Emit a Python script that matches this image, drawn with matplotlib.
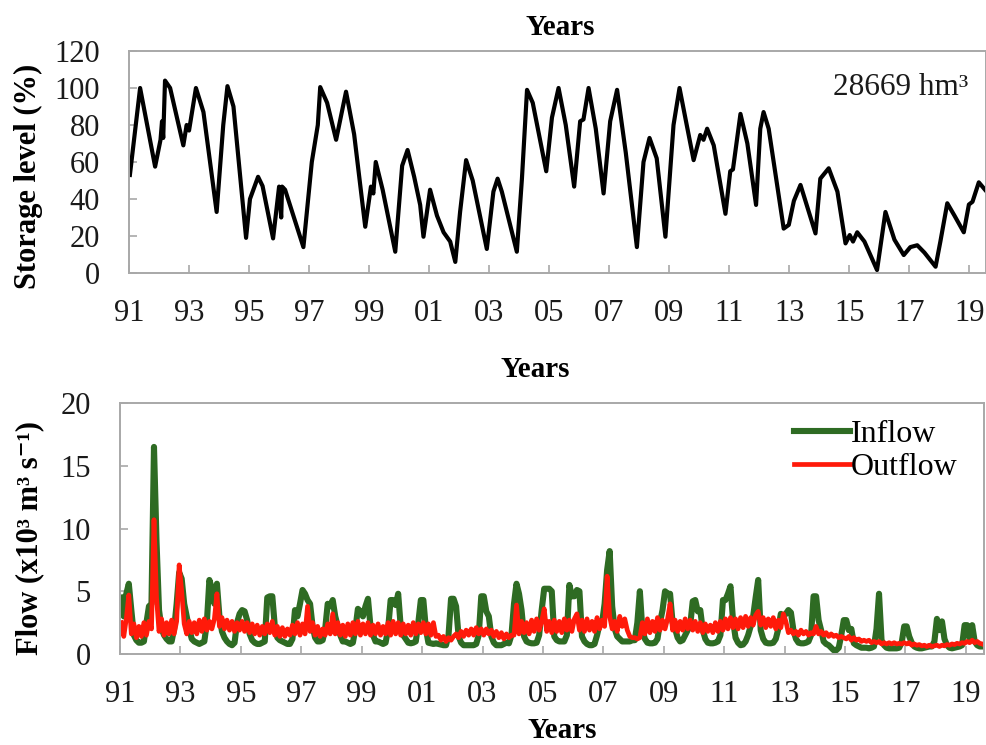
import matplotlib
matplotlib.use("Agg")
import matplotlib.pyplot as plt
import numpy as np

plt.rcParams['font.family'] = ['Liberation Serif', 'DejaVu Serif']

# storage level (%) - turning points
storage_years = [
    1991.03, 1991.37, 1991.87, 1992.05, 1992.10, 1992.14, 1992.20, 1992.37, 1992.81, 1992.92,
    1993.00, 1993.23, 1993.48, 1993.92, 1994.14, 1994.28, 1994.48, 1994.90, 1995.03, 1995.30,
    1995.45, 1995.80, 1996.00, 1996.07, 1996.10, 1996.20, 1996.81, 1997.09, 1997.29, 1997.37,
    1997.60, 1997.90, 1998.23, 1998.50, 1998.87, 1999.06, 1999.14, 1999.22, 1999.45, 1999.87,
    2000.10, 2000.28, 2000.50, 2000.70, 2000.81, 2001.03, 2001.26, 2001.48, 2001.70, 2001.87,
    2002.03, 2002.23, 2002.45, 2002.92, 2003.14, 2003.28, 2003.42, 2003.92, 2004.09, 2004.26,
    2004.45, 2004.90, 2005.09, 2005.31, 2005.55, 2005.83, 2006.03, 2006.14, 2006.31, 2006.55,
    2006.81, 2007.03, 2007.26, 2007.55, 2007.92, 2008.14, 2008.34, 2008.58, 2008.87, 2009.14,
    2009.34, 2009.58, 2009.81, 2010.03, 2010.14, 2010.26, 2010.48, 2010.87, 2011.03, 2011.12,
    2011.37, 2011.60, 2011.89, 2012.03, 2012.14, 2012.31, 2012.81, 2012.98, 2013.15, 2013.37,
    2013.87, 2014.03, 2014.31, 2014.60, 2014.87, 2015.01, 2015.12, 2015.26, 2015.50, 2015.92,
    2016.20, 2016.50, 2016.81, 2017.03, 2017.26, 2017.50, 2017.87, 2018.03, 2018.26, 2018.50,
    2018.81, 2018.98, 2019.10, 2019.31, 2019.57,
]
storage = [
    53, 100, 57.5, 72, 82, 73, 104, 100, 69, 80,
    77, 100, 87, 33, 80, 101, 90, 19, 40, 52,
    47, 18.7, 46.7, 30, 46.7, 45, 14, 60, 80, 100.5,
    92, 72, 98, 75, 25, 46.7, 43, 60, 45, 11.5,
    58, 66.5, 52, 36.8, 19.6, 45, 31, 22, 17, 6,
    33, 61, 50, 13, 44, 51, 44, 11.5, 51, 99,
    92, 55, 84, 100, 80, 46.7, 82, 83, 100, 78,
    43, 82, 99, 65, 14, 60, 73, 62, 19.6, 80,
    100, 80, 61, 74.6, 72, 78, 69, 32, 55, 56,
    86, 70, 36.8, 78, 87, 78, 24, 26, 39, 47.6,
    21.4, 51, 56.6, 44, 16, 20.5, 17, 22, 17, 1.6,
    33, 18, 9.7, 14, 15, 11, 3.4, 17, 37.7, 31,
    22, 37, 38.5, 49, 44,
]

# monthly flows (x10^3 m3/s), Jan 1991 - Aug 2019
inflow = [
    4.5, 3.0, 4.8, 5.6, 3.5, 1.5, 1.1, 0.9, 0.9, 1.0, 2.5, 3.8,    # 1991
    4.0, 16.5, 9.0, 3.5, 2.0, 1.5, 1.2, 1.0, 1.0, 2.0, 4.0, 6.5,   # 1992
    6.0, 4.0, 3.0, 2.0, 1.2, 1.0, 0.9, 0.8, 0.9, 1.0, 2.5, 5.9,    # 1993
    5.2, 4.0, 5.6, 3.0, 1.8, 1.3, 1.0, 0.8, 0.7, 0.9, 2.5, 3.2,    # 1994
    3.5, 3.4, 2.7, 1.6, 1.1, 0.9, 0.8, 0.8, 0.9, 1.0, 4.5, 4.6,    # 1995
    4.6, 2.2, 1.3, 1.1, 1.0, 0.9, 0.8, 0.8, 1.2, 3.5, 3.0, 4.0,    # 1996
    5.1, 4.8, 4.3, 4.0, 2.2, 1.3, 1.0, 1.0, 1.1, 2.0, 4.0, 3.8,    # 1997
    4.3, 3.0, 2.2, 1.5, 1.0, 1.0, 0.9, 0.8, 0.9, 2.0, 3.6, 3.4,    # 1998
    3.0, 3.8, 4.4, 2.2, 1.5, 1.0, 1.0, 0.9, 0.8, 0.9, 2.0, 4.3,    # 1999
    4.3, 3.9, 4.8, 2.2, 1.5, 1.2, 0.9, 0.85, 0.9, 1.0, 2.5, 4.3,   # 2000
    4.3, 2.0, 0.9, 0.85, 0.8, 0.85, 0.8, 0.75, 0.7, 0.7, 1.5, 4.4, # 2001
    4.4, 3.8, 1.4, 0.9, 0.7, 0.7, 0.7, 0.7, 0.7, 0.8, 1.5, 4.6,    # 2002
    4.6, 3.4, 3.0, 1.4, 0.9, 0.7, 0.7, 0.7, 0.8, 0.9, 0.85, 1.5,   # 2003
    4.0, 5.6, 4.8, 3.5, 1.4, 1.0, 0.9, 0.85, 0.85, 0.9, 1.5, 3.5,  # 2004
    5.2, 5.2, 5.2, 5.0, 1.4, 1.1, 1.0, 1.0, 1.0, 1.5, 5.5, 4.6,    # 2005
    4.6, 5.1, 5.0, 1.4, 1.0, 0.8, 0.7, 0.7, 0.8, 1.5, 2.4, 2.5,    # 2006
    4.0, 6.7, 8.2, 3.8, 2.0, 1.4, 1.2, 1.0, 1.0, 1.0, 1.0, 1.1,    # 2007
    1.1, 2.5, 5.0, 1.9, 1.2, 0.9, 0.85, 0.85, 0.9, 1.2, 2.5, 3.5,  # 2008
    5.0, 4.8, 4.8, 2.5, 2.0, 1.3, 1.0, 1.1, 1.5, 1.9, 2.3, 4.2,    # 2009
    4.3, 3.4, 3.5, 1.9, 1.2, 0.9, 0.85, 0.85, 0.9, 1.0, 1.5, 4.3,  # 2010
    4.3, 4.8, 5.4, 2.7, 1.3, 0.9, 0.7, 0.75, 1.0, 1.5, 2.2, 3.0,   # 2011
    4.5, 5.9, 1.9, 1.2, 0.9, 0.85, 0.85, 0.9, 1.2, 2.0, 3.2, 3.0,  # 2012
    3.2, 3.5, 3.3, 1.9, 1.2, 0.9, 0.85, 0.85, 0.9, 1.0, 1.5, 4.6,  # 2013
    4.6, 2.7, 1.9, 1.0, 0.8, 0.7, 0.5, 0.3, 0.3, 0.5, 1.5, 2.7,    # 2014
    2.7, 1.9, 2.0, 0.85, 0.7, 0.6, 0.5, 0.5, 0.5, 0.45, 0.5, 0.6,  # 2015
    2.0, 4.8, 1.1, 0.7, 0.5, 0.45, 0.45, 0.45, 0.45, 0.5, 0.9, 2.2, # 2016
    2.2, 1.4, 0.9, 0.6, 0.5, 0.45, 0.45, 0.5, 0.55, 0.6, 0.6, 1.0, # 2017
    2.8, 1.9, 2.6, 1.2, 0.7, 0.5, 0.45, 0.5, 0.55, 0.6, 0.7, 2.3,  # 2018
    2.3, 1.2, 2.3, 1.0, 0.7, 0.6, 0.6, 0.6,                        # 2019
]
outflow = [
    2.5, 1.4, 2.8, 4.7, 1.6, 2.4, 1.3, 2.2, 1.4, 2.5, 1.5, 2.6,    # 1991
    2.0, 10.7, 4.5, 1.8, 2.8, 1.5, 2.5, 1.6, 2.7, 1.6, 2.6, 7.1,   # 1992
    5.0, 2.4, 1.6, 2.6, 1.7, 2.5, 1.6, 2.7, 1.8, 2.8, 1.9, 2.6,    # 1993
    2.0, 2.8, 4.8, 2.2, 2.9, 2.0, 2.7, 1.9, 2.6, 1.8, 2.5, 1.9,    # 1994
    2.6, 1.8, 2.5, 1.7, 2.4, 1.6, 2.3, 1.5, 2.2, 1.6, 2.4, 1.7,    # 1995
    2.6, 1.5, 2.2, 1.4, 2.1, 1.4, 2.0, 1.5, 2.3, 1.6, 2.5, 1.5,    # 1996
    2.4, 1.6, 3.8, 1.8, 2.5, 1.5, 2.2, 1.4, 2.0, 1.5, 2.4, 1.6,    # 1997
    3.2, 1.6, 2.5, 1.5, 2.3, 1.4, 2.4, 1.5, 2.5, 1.6, 2.6, 1.5,    # 1998
    2.4, 1.6, 2.5, 1.5, 2.3, 1.6, 2.4, 1.5, 2.2, 1.6, 2.5, 1.5,    # 1999
    2.6, 1.6, 2.5, 1.5, 2.4, 1.6, 2.3, 1.5, 2.5, 1.6, 2.4, 1.7,    # 2000
    2.5, 1.6, 2.4, 1.5, 2.5, 1.4, 1.5, 1.1, 1.4, 1.0, 1.3, 1.1,    # 2001
    1.4, 1.6, 1.3, 1.8, 1.4, 1.9, 1.5, 2.0, 1.5, 2.1, 1.6, 2.0,    # 2002
    1.5, 2.0, 1.6, 1.9, 1.4, 1.8, 1.3, 1.7, 1.2, 1.6, 1.3, 1.5,    # 2003
    1.5, 3.9, 1.6, 2.6, 1.7, 2.5, 1.6, 2.7, 1.8, 2.8, 1.9, 2.6,    # 2004
    3.6, 1.8, 2.6, 1.7, 2.7, 1.8, 2.6, 1.7, 2.8, 1.9, 2.7, 1.8,    # 2005
    2.8, 3.2, 1.9, 2.7, 1.8, 2.8, 1.9, 2.6, 1.8, 2.9, 2.0, 2.7,    # 2006
    2.2, 6.2, 3.0, 2.0, 2.6, 1.8, 3.0, 2.2, 2.8, 1.9, 1.4, 1.3,    # 2007
    1.3, 1.2, 1.3, 2.5, 1.6, 2.8, 1.7, 2.6, 1.8, 2.9, 1.9, 2.7,    # 2008
    2.0, 2.8, 4.0, 1.9, 2.7, 1.8, 2.6, 1.9, 2.8, 2.0, 2.7, 1.9,    # 2009
    2.6, 1.8, 2.5, 1.7, 2.4, 1.8, 2.3, 1.7, 2.5, 1.8, 2.6, 1.9,    # 2010
    2.8, 2.0, 2.9, 2.1, 2.8, 2.0, 2.9, 2.1, 3.0, 2.2, 2.9, 2.3,    # 2011
    3.1, 3.4, 2.3, 2.9, 2.1, 2.8, 2.2, 2.9, 2.0, 2.7, 2.1, 3.2,    # 2012
    2.6, 1.7, 1.9, 1.6, 1.8, 1.5, 1.9, 1.6, 1.8, 1.5, 1.7, 1.6,    # 2013
    2.2, 1.6, 1.8, 1.5, 1.7, 1.4, 1.6, 1.4, 1.5, 1.3, 1.4, 1.3,    # 2014
    1.2, 1.4, 1.1, 1.3, 1.1, 1.2, 1.0, 1.1, 1.0, 1.1, 0.9, 1.0,    # 2015
    0.9, 1.0, 0.8, 0.9, 0.8, 0.9, 0.8, 0.9, 0.8, 0.85, 0.8, 0.9,   # 2016
    0.8, 0.9, 0.7, 0.8, 0.7, 0.75, 0.65, 0.7, 0.6, 0.7, 0.6, 0.65, # 2017
    0.7, 0.6, 0.7, 0.65, 0.75, 0.7, 0.8, 0.75, 0.85, 0.8, 0.9, 0.85, # 2018
    1.0, 0.9, 1.1, 0.9, 1.0, 0.85, 0.8, 0.7,                       # 2019
]
flow_years = 1991 + (np.arange(len(inflow)) + 0.5) / 12

year_ticks = list(range(1991, 2020, 2))
year_labels = ['%02d' % (y % 100) for y in year_ticks]

W, H = 986, 745
fig = plt.figure(figsize=(W / 100, H / 100), dpi=100)

spine_col = '#a8a8a8'


def style_axes(ax, xlim, ylim, yticks):
    ax.set_xlim(*xlim)
    ax.set_ylim(*ylim)
    ax.set_xticks(year_ticks)
    ax.set_xticklabels(year_labels)
    ax.set_yticks(yticks)
    for s in ax.spines.values():
        s.set_color(spine_col)
        s.set_linewidth(1.4)
    ax.tick_params(axis='both', direction='in', length=6, width=1.2, color=spine_col,
                   labelsize=22, labelcolor='#1a1a1a')
    ax.tick_params(axis='x', pad=19)
    ax.tick_params(axis='y', pad=21)


# top panel: storage level
ax1 = fig.add_axes([129 / W, 1 - 273 / H, (986 - 129) / W, 222 / H])
ax1.plot(storage_years, storage, color='black', lw=3.0, solid_joinstyle='round')
style_axes(ax1, (1991, 2019.55), (0, 120), range(0, 121, 20))
ax1.text(0.979, 0.835, '28669 hm³', transform=ax1.transAxes, ha='right', va='center',
         fontsize=22.5, color='#1a1a1a')

# bottom panel: inflow / outflow
ax2 = fig.add_axes([120 / W, 1 - 654 / H, (984 - 120) / W, 251 / H])
ax2.plot(flow_years, inflow, color='#2e6b23', lw=4.4, label='Inflow', solid_joinstyle='round')
ax2.plot(flow_years, outflow, color='#ff1a0a', lw=3.4, label='Outflow', solid_joinstyle='round')
style_axes(ax2, (1991, 2019.6), (0, 20), range(0, 21, 5))
leg = ax2.legend(loc='upper right', bbox_to_anchor=(0.992, 1.01), frameon=False, fontsize=23,
                 handlelength=1.75, handletextpad=0.05, labelspacing=0.12, borderaxespad=0.2)

# titles / axis labels
fig.text(560 / W, 1 - 35 / H, 'Years', ha='center', va='baseline', fontsize=21, fontweight='bold')
fig.text(535 / W, 1 - 377 / H, 'Years', ha='center', va='baseline', fontsize=21, fontweight='bold')
fig.text(562 / W, 1 - 730 / H, 'Years', ha='center', va='center', fontsize=21, fontweight='bold')
fig.text(28 / W, 1 - 176 / H, 'Storage level (%)', rotation=90, ha='center', va='center',
         fontsize=22, fontweight='bold')
fig.text(30 / W, 1 - 538 / H, 'Flow (x10³ m³ s⁻¹)', rotation=90, ha='center', va='center',
         fontsize=22, fontweight='bold')

fig.savefig('out.png', dpi=100)
